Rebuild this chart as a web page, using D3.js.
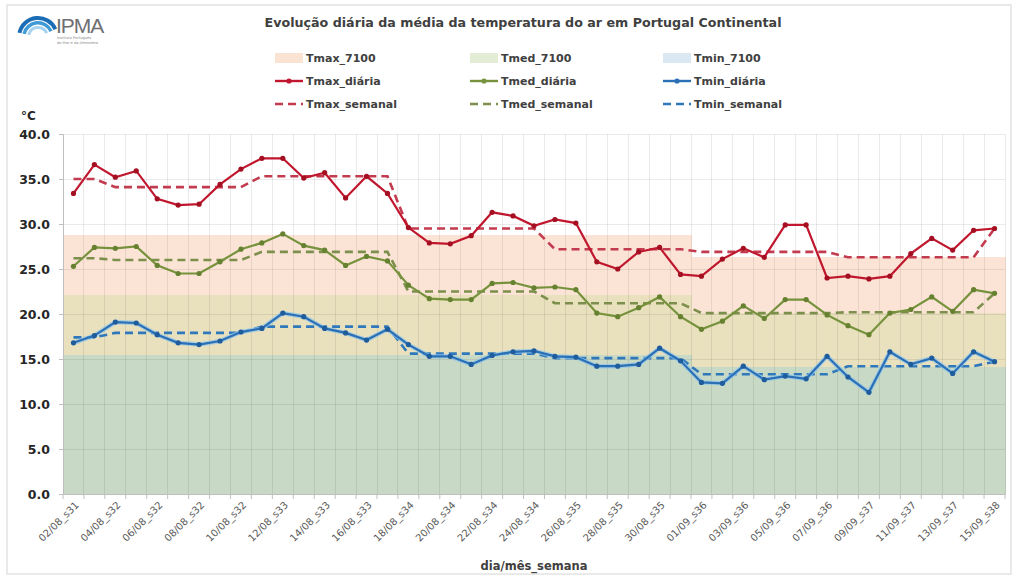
<!DOCTYPE html>
<html>
<head>
<meta charset="UTF-8">
<title>IPMA - Evolução diária da temperatura do ar</title>
<script src="https://cdn.jsdelivr.net/npm/d3@7"></script>
<style>
  body { margin: 0; background: #fff; }
  svg text { font-family: "DejaVu Sans", sans-serif; }
</style>
</head>
<body>
<svg id="chart" width="1018" height="580"></svg>
<script>

// dia/mês_semana
var days = ["02/08_s31","03/08_s31","04/08_s32","05/08_s32","06/08_s32","07/08_s32","08/08_s32","09/08_s32","10/08_s32",
  "11/08_s33","12/08_s33","13/08_s33","14/08_s33","15/08_s33","16/08_s33","17/08_s33",
  "18/08_s34","19/08_s34","20/08_s34","21/08_s34","22/08_s34","23/08_s34","24/08_s34",
  "25/08_s35","26/08_s35","27/08_s35","28/08_s35","29/08_s35","30/08_s35","31/08_s35",
  "01/09_s36","02/09_s36","03/09_s36","04/09_s36","05/09_s36","06/09_s36","07/09_s36",
  "08/09_s37","09/09_s37","10/09_s37","11/09_s37","12/09_s37","13/09_s37","14/09_s37",
  "15/09_s38"];

// valores diarios (°C)
var tmaxDiaria = [33.4,36.6,35.2,35.9,32.8,32.1,32.2,34.4,36.1,37.3,37.3,35.1,35.7,32.9,35.3,33.4,29.6,27.9,27.8,28.7,31.3,30.9,29.8,30.5,30.1,25.8,25.0,26.9,27.4,24.4,24.2,26.1,27.3,26.3,29.9,29.9,24.0,24.2,23.9,24.2,26.7,28.4,27.1,29.3,29.5];
var tmedDiaria = [25.3,27.4,27.3,27.5,25.4,24.5,24.5,25.8,27.2,27.9,28.9,27.6,27.1,25.4,26.4,25.9,23.2,21.7,21.6,21.6,23.4,23.5,22.9,23.0,22.7,20.1,19.7,20.7,21.9,19.7,18.3,19.2,20.9,19.5,21.6,21.6,19.9,18.7,17.7,20.1,20.5,21.9,20.3,22.7,22.3];
var tminDiaria = [16.8,17.6,19.1,19.0,17.7,16.8,16.6,17.0,18.0,18.4,20.1,19.7,18.4,17.9,17.1,18.3,16.6,15.3,15.3,14.4,15.4,15.8,15.9,15.3,15.2,14.2,14.2,14.4,16.2,14.8,12.4,12.3,14.2,12.7,13.1,12.8,15.3,13.0,11.3,15.8,14.4,15.1,13.4,15.8,14.7];

// valores semanais
var weeks = ["s31","s32","s33","s34","s35","s36","s37","s38"];
var tmaxSemanal = [35.0,34.1,35.3,29.5,27.2,26.9,26.3,29.5];
var tmedSemanal = [26.2,26.0,26.9,22.5,21.2,20.1,20.2,22.3];
var tminSemanal = [17.4,17.9,18.6,15.6,15.1,13.3,14.2,14.7];

// normais 1971-2000 (por mês)
var months = ["08","09"];
var tmax7100 = [28.8,26.3];
var tmed7100 = [22.1,20.1];
var tmin7100 = [15.4,14.1];

var yTicks = [0,5,10,15,20,25,30,35,40];

var svg = d3.select("#chart");
var margin = { left: 63, right: 1005, top: 134, bottom: 494 };

var x = d3.scaleBand().domain(days).range([margin.left, margin.right]).padding(0);
var y = d3.scaleLinear().domain([0, 40]).range([margin.bottom, margin.top]);
var cx = function (d) { return x(d) + x.bandwidth() / 2; };
var wk = function (d) { return weeks.indexOf(d.split("_")[1]); };
var mo = function (d) { return months.indexOf(d.substr(3, 2)); };

// moldura
svg.append("rect").attr("x", 7).attr("y", 5).attr("width", 1004).attr("height", 569)
  .attr("fill", "none").attr("stroke", "#d4d4d4");

// normais (colunas sem intervalo)
var shade = svg.append("g").attr("shape-rendering", "crispEdges");
[[tmax7100, "#fbe4d5"], [tmed7100, "#e9e0bd"], [tmin7100, "#c8d9c5"]].forEach(function (s) {
  shade.selectAll(null).data(days).enter().append("rect")
    .attr("x", function (d) { return x(d); })
    .attr("width", x.bandwidth() + 0.6)
    .attr("y", function (d) { return y(s[0][mo(d)]); })
    .attr("height", function (d) { return y(0) - y(s[0][mo(d)]); })
    .attr("fill", s[1]);
});

// grelha
var grid = svg.append("g").attr("stroke", "#000").attr("stroke-opacity", 0.08).attr("shape-rendering", "crispEdges");
grid.selectAll(null).data(yTicks.slice(1)).enter().append("line")
  .attr("x1", margin.left).attr("x2", margin.right)
  .attr("y1", function (d) { return y(d); }).attr("y2", function (d) { return y(d); });
grid.selectAll(null).data(days.slice(1).concat(["end"])).enter().append("line")
  .attr("x1", function (d) { return d === "end" ? margin.right : x(d); })
  .attr("x2", function (d) { return d === "end" ? margin.right : x(d); })
  .attr("y1", margin.top).attr("y2", margin.bottom);

// eixo y
var yAxis = svg.append("g").attr("transform", "translate(" + margin.left + ",0)")
  .call(d3.axisLeft(y).tickValues(yTicks).tickFormat(d3.format(".1f")).tickSize(4).tickPadding(9));
yAxis.select(".domain").attr("stroke", "#bfbfbf");
yAxis.selectAll(".tick line").attr("stroke", "#bfbfbf");
yAxis.selectAll("text").attr("fill", "#262626").style("font-size", "12.5px").style("font-weight", "bold");

// eixo x
var xAxis = svg.append("g").attr("transform", "translate(0," + margin.bottom + ")")
  .call(d3.axisBottom(x).tickSize(0).tickFormat(function (d, i) { return i % 2 === 0 ? d : ""; }));
xAxis.select(".domain").attr("stroke", "#bfbfbf");
xAxis.selectAll("text")
  .attr("x", -4).attr("y", 9).attr("dy", "0.35em")
  .attr("transform", "rotate(-45)")
  .style("text-anchor", "end").style("font-size", "10px").attr("fill", "#595959");
svg.append("g").selectAll(null).data(days.concat(["end"])).enter().append("line")
  .attr("x1", function (d) { return d === "end" ? margin.right : x(d); })
  .attr("x2", function (d) { return d === "end" ? margin.right : x(d); })
  .attr("y1", margin.bottom).attr("y2", margin.bottom + 5)
  .attr("stroke", "#bfbfbf");

// linhas semanais (tracejado)
var weekLine = d3.line().x(function (d) { return cx(d.day); }).y(function (d) { return y(d.v); });
[[tmaxSemanal, "#c33b4f"], [tmedSemanal, "#7d8f4c"], [tminSemanal, "#2f78bb"]].forEach(function (s) {
  svg.append("path")
    .datum(days.map(function (d) { return { day: d, v: s[0][wk(d)] }; }))
    .attr("fill", "none").attr("stroke", s[1]).attr("stroke-width", 2.6)
    .attr("stroke-dasharray", "8,5").attr("d", weekLine);
});

// linhas diarias
var series = [
  { v: tmaxDiaria, c: "#c0172e", m: "#a50f22" },
  { v: tmedDiaria, c: "#76923c", m: "#66812f" },
  { v: tminDiaria, c: "#2b6fb5", m: "#1f5c9c" }
];
series.forEach(function (s, k) {
  var pts = days.map(function (d, i) { return { day: d, v: s.v[i] }; });
  if (k === 2) {
    svg.append("path").datum(pts).attr("fill", "none").attr("stroke", "#8cc4ee")
      .attr("stroke-width", 4.5).attr("stroke-opacity", 0.7).attr("d", weekLine);
  }
  svg.append("path").datum(pts).attr("fill", "none").attr("stroke", s.c)
    .attr("stroke-width", 2.2).attr("d", weekLine);
  svg.append("g").selectAll("circle").data(pts).enter().append("circle")
    .attr("cx", function (d) { return cx(d.day); })
    .attr("cy", function (d) { return y(d.v); })
    .attr("r", 2.6).attr("fill", s.m);
});

// titulos
svg.append("text").attr("x", 523).attr("y", 27).attr("text-anchor", "middle")
  .attr("textLength", 517).attr("lengthAdjust", "spacingAndGlyphs")
  .style("font-size", "13px").style("font-weight", "bold").attr("fill", "#404040")
  .text("Evolução diária da média da temperatura do ar em Portugal Continental");
svg.append("text").attr("x", 21).attr("y", 120)
  .style("font-size", "12px").style("font-weight", "bold").attr("fill", "#262626").text("°C");
svg.append("text").attr("x", 534).attr("y", 570).attr("text-anchor", "middle")
  .style("font-size", "11.5px").style("font-weight", "bold").attr("fill", "#404040").text("dia/mês_semana");

// legenda
var legCols = [275, 470, 663];
var legRows = [58, 81, 104];
var legend = [
  ["Tmax_7100", "#fbe3d3", "box"], ["Tmed_7100", "#e3ecd5", "box"], ["Tmin_7100", "#d9e8f3", "box"],
  ["Tmax_diária", "#c0172e", "line"], ["Tmed_diária", "#76923c", "line"], ["Tmin_diária", "#2b6fb5", "line"],
  ["Tmax_semanal", "#c33b4f", "dash"], ["Tmed_semanal", "#7d8f4c", "dash"], ["Tmin_semanal", "#2f78bb", "dash"]
];
legend.forEach(function (l, i) {
  var gx = legCols[i % 3], gy = legRows[Math.floor(i / 3)];
  var g = svg.append("g").attr("transform", "translate(" + gx + "," + gy + ")");
  if (l[2] === "box") {
    g.append("rect").attr("x", 0).attr("y", -5).attr("width", 28).attr("height", 10).attr("fill", l[1]);
  } else {
    g.append("line").attr("x1", 0).attr("x2", 28).attr("y1", 0).attr("y2", 0)
      .attr("stroke", l[1]).attr("stroke-width", 2.4)
      .attr("stroke-dasharray", l[2] === "dash" ? "8,5" : null);
    if (l[2] === "line") g.append("circle").attr("cx", 14).attr("cy", 0).attr("r", 2.6).attr("fill", l[1]);
  }
  g.append("text").attr("x", 31).attr("y", 0).attr("dy", "0.36em")
    .style("font-size", "11px").style("font-weight", "bold").attr("fill", "#404040").text(l[0]);
});

// logotipo IPMA
var logo = svg.append("g").attr("transform", "translate(38,37)");
[[17, 21, "#1c6db5"], [12.5, 16, "#3f9ad6"], [8, 11, "#a6d3ef"]].forEach(function (a) {
  logo.append("path").attr("fill", a[2])
    .attr("d", d3.arc().innerRadius(a[0]).outerRadius(a[1]).startAngle(-1.35).endAngle(1.15)());
});
svg.append("text").attr("x", 56).attr("y", 33).style("font-family", "Liberation Sans, sans-serif")
  .style("font-size", "21px").style("letter-spacing", "-1px").attr("fill", "#6e6f72").text("IPMA");
svg.append("text").attr("x", 57).attr("y", 39).style("font-size", "3.6px").attr("fill", "#8a8a8a").text("Instituto Português");
svg.append("text").attr("x", 57).attr("y", 43.5).style("font-size", "3.6px").attr("fill", "#8a8a8a").text("do Mar e da Atmosfera");

</script>
</body>
</html>
